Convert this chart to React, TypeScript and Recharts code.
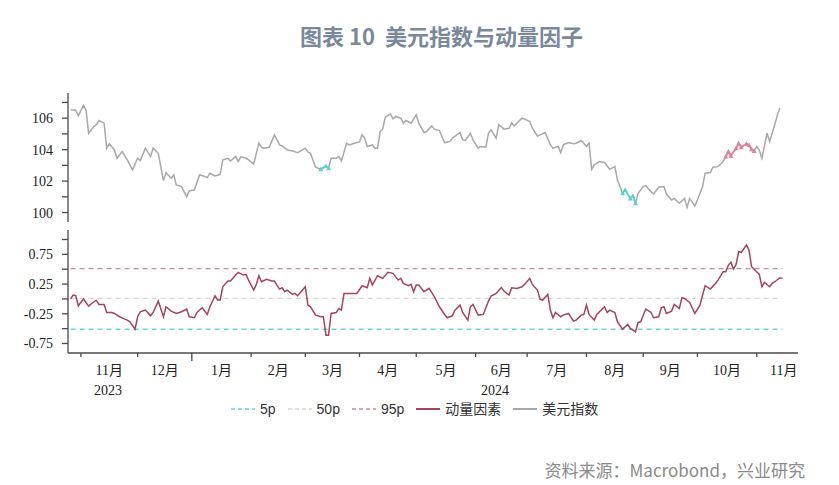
import React from 'react';
import { LineChart, Line, XAxis, YAxis } from 'recharts';

// x = trading day index counted from 2023-10-25
const dxyPoints: [number, number][] = [
  [1, 106.53], [3, 106.5], [4, 106.15], [6, 106.81], [7, 106.5], [8, 105.04], [10, 105.47], [11, 105.58],
  [12, 105.85], [14, 105.68], [15, 104.09], [16, 104.37], [18, 103.98], [19, 103.45], [21, 103.88], [23, 103.35],
  [25, 102.71], [27, 103.45], [28, 103.3], [30, 104.09], [32, 103.56], [33, 104.09], [35, 103.77], [37, 102.03],
  [38, 102.54], [40, 102.18], [41, 102.39], [42, 101.75], [44, 101.65], [46, 101.01], [47, 101.37], [49, 101.44],
  [51, 102.39], [52, 102.35], [54, 102.22], [55, 102.5], [57, 102.33], [59, 102.43], [60, 103.35], [62, 103.45],
  [63, 103.28], [65, 103.56], [66, 103.24], [67, 103.56], [69, 103.45], [70, 103.35], [72, 103.09], [74, 104.41],
  [75, 104.15], [76, 104.09], [78, 104.15], [80, 104.94], [82, 104.3], [83, 104.24], [85, 103.98], [87, 103.92],
  [89, 103.81], [92, 104.09], [93, 103.86], [94, 103.77], [96, 102.88], [98, 102.75], [100, 102.96], [101, 102.82],
  [102, 103.45], [104, 103.45], [105, 103.56], [106, 103.28], [108, 104.41], [109, 104.3], [111, 104.41], [113, 104.49],
  [114, 104.94], [115, 104.73], [116, 104.2], [118, 104.3], [119, 104.09], [120, 104.09], [121, 105.15], [122, 105.3],
  [123, 106.06], [125, 106.28], [126, 105.96], [127, 106.11], [129, 106.0], [130, 105.68], [131, 105.85], [133, 105.68],
  [135, 106.21], [136, 105.68], [138, 105.09], [139, 105.15], [141, 105.51], [142, 105.3], [144, 105.21], [146, 104.45],
  [148, 104.51], [149, 104.73], [152, 105.09], [153, 104.62], [154, 104.58], [156, 105.04], [157, 104.62], [159, 104.09],
  [160, 104.2], [162, 104.15], [163, 105.04], [164, 105.26], [166, 104.73], [167, 105.58], [169, 105.3], [171, 105.36],
  [172, 105.72], [173, 105.51], [176, 106.0], [177, 105.94], [179, 105.79], [180, 105.36], [182, 104.87], [183, 104.94],
  [185, 105.09], [187, 104.3], [188, 104.09], [190, 104.2], [191, 103.81], [192, 104.3], [194, 104.45], [196, 104.37],
  [197, 104.41], [199, 104.58], [201, 104.2], [202, 104.41], [203, 102.75], [204, 103.03], [206, 103.24], [208, 103.18],
  [210, 102.75], [212, 102.92], [213, 102.07], [215, 101.22], [216, 101.44], [218, 100.9], [219, 101.05], [220, 100.59],
  [221, 101.22], [223, 101.65], [224, 101.71], [226, 101.33], [227, 101.18], [229, 101.61], [231, 101.65], [232, 101.18],
  [234, 100.8], [235, 100.9], [237, 100.59], [239, 100.9], [240, 100.33], [241, 100.9], [243, 100.42], [244, 100.8],
  [246, 101.65], [247, 102.5], [249, 102.54], [250, 102.88], [252, 102.92], [254, 103.24], [255, 103.56], [256, 103.88],
  [257, 103.6], [259, 104.09], [260, 104.41], [261, 104.15], [263, 104.37], [264, 104.3], [265, 104.03], [266, 103.92],
  [267, 104.2], [268, 103.95], [269, 103.45], [271, 105.04], [272, 104.51], [274, 105.58], [275, 106.21], [276, 106.64],
];

const momentumPoints: [number, number][] = [
  [1, 0.0], [2, 0.065], [3, 0.054], [4, -0.115], [6, -0.003], [8, -0.121], [10, -0.048], [11, -0.025],
  [12, -0.093], [14, -0.093], [15, -0.228], [17, -0.228], [18, -0.244], [20, -0.3], [22, -0.34], [23, -0.357],
  [24, -0.385], [26, -0.508], [27, -0.3], [28, -0.216], [30, -0.188], [32, -0.284], [33, -0.228], [35, -0.037],
  [37, -0.3], [38, -0.132], [40, -0.205], [42, -0.244], [44, -0.216], [46, -0.171], [47, -0.3], [49, -0.317],
  [50, -0.228], [52, -0.149], [54, -0.261], [55, -0.132], [57, 0.053], [58, -0.02], [59, -0.02], [60, 0.205],
  [62, 0.301], [63, 0.301], [65, 0.402], [66, 0.447], [68, 0.402], [69, 0.413], [70, 0.317], [72, 0.149],
  [73, 0.244], [74, 0.39], [75, 0.29], [77, 0.329], [79, 0.301], [80, 0.301], [82, 0.166], [83, 0.188],
  [84, 0.121], [85, 0.149], [87, 0.076], [88, 0.093], [89, 0.053], [92, 0.205], [93, -0.104], [94, -0.132],
  [96, -0.272], [98, -0.3], [99, -0.3], [100, -0.61], [101, -0.61], [102, -0.244], [104, -0.228], [105, -0.16],
  [106, -0.188], [107, 0.093], [109, 0.093], [111, 0.093], [112, 0.093], [114, 0.222], [116, 0.188], [117, 0.346],
  [118, 0.233], [120, 0.39], [122, 0.346], [124, 0.447], [126, 0.43], [128, 0.317], [129, 0.346], [130, 0.261],
  [132, 0.222], [133, 0.244], [134, 0.121], [135, 0.233], [136, 0.233], [138, 0.121], [140, 0.177], [142, 0.037],
  [144, -0.132], [146, -0.261], [147, -0.317], [149, -0.284], [150, -0.188], [152, -0.104], [153, -0.228], [155, -0.357],
  [156, -0.132], [157, -0.093], [159, -0.272], [161, -0.261], [163, -0.037], [164, 0.048], [166, 0.093], [168, 0.194],
  [169, 0.132], [171, 0.065], [172, 0.188], [174, 0.177], [176, 0.205], [177, 0.244], [179, 0.346], [180, 0.244],
  [182, 0.149], [183, -0.003], [184, -0.02], [186, 0.076], [187, -0.188], [188, -0.317], [189, -0.228], [191, -0.3],
  [192, -0.272], [194, -0.244], [196, -0.374], [197, -0.357], [199, -0.272], [200, -0.261], [201, -0.104], [202, -0.261],
  [204, -0.357], [205, -0.261], [208, -0.132], [209, -0.228], [210, -0.188], [212, -0.228], [213, -0.385], [215, -0.508],
  [217, -0.43], [218, -0.497], [220, -0.553], [221, -0.396], [222, -0.385], [224, -0.171], [226, -0.228], [227, -0.317],
  [229, -0.3], [230, -0.149], [231, -0.132], [232, -0.244], [234, -0.205], [235, -0.093], [237, -0.16], [238, 0.02],
  [239, 0.008], [241, -0.059], [243, -0.244], [245, -0.104], [246, 0.065], [247, 0.222], [249, 0.166], [251, 0.261],
  [252, 0.317], [254, 0.458], [255, 0.458], [256, 0.57], [257, 0.615], [258, 0.503], [259, 0.581], [260, 0.795],
  [261, 0.784], [263, 0.907], [264, 0.823], [265, 0.542], [267, 0.458], [268, 0.413], [269, 0.205], [270, 0.278],
  [272, 0.205], [273, 0.261], [274, 0.289], [276, 0.357], [277, 0.346],
];

// percentile levels of the momentum factor
const p5 = -0.51;
const p50 = 0.01;
const p95 = 0.51;

// days where momentum sits below 5p / above 95p
const lowRanges = [[98, 101], [215, 220]];
const highRanges = [[255, 266]];

const monthStarts = [5, 27, 48, 71, 92, 113, 135, 158, 178, 201, 223, 244, 267, 288];
const monthLabels = ['11月', '12月', '1月', '2月', '3月', '4月', '5月', '6月', '7月', '8月', '9月', '10月', '11月'];
const yearStart = 48;
const yearLabels = ['2023', '2024'];
const yearLabelDays = [15.5, 165.5];

const legendItems = [
  { name: '5p', color: '#6fd3d3', dashed: true },
  { name: '50p', color: '#d9d6d0', dashed: true },
  { name: '95p', color: '#c98c9c', dashed: true },
  { name: '动量因素', color: '#a5445f', dashed: false },
  { name: '美元指数', color: '#a8a8a8', dashed: false },
];

const X_DOMAIN: [number, number] = [0, 283];
const AXIS = '#4a4a4a';
const tickFont = { fontFamily: '"Liberation Serif", "Noto Sans CJK SC", serif', fontSize: 14, fill: '#222' };

const toRows = (pts: [number, number][]) => pts.map(([day, value]) => ({ day, value }));
const inRanges = (day: number, ranges: number[][]) => ranges.some(([a, b]) => day >= a && day <= b);

const dxyData = toRows(dxyPoints);
const momentumData = toRows(momentumPoints);
const firstDay = momentumPoints[0][0];
const lastDay = momentumPoints[momentumPoints.length - 1][0];
const levelLine = (v: number) => [{ day: firstDay, value: v }, { day: lastDay, value: v }];
const lowData = dxyData.map(d => ({ day: d.day, value: inRanges(d.day, lowRanges) ? d.value : null }));
const highData = dxyData.map(d => ({ day: d.day, value: inRanges(d.day, highRanges) ? d.value : null }));

const monthMids = monthLabels.map((_, i) => (monthStarts[i] + monthStarts[i + 1]) / 2);
const xTicks = [...monthStarts.slice(0, -1), ...monthMids, ...yearLabelDays].sort((a, b) => a - b);

const triangleDot = (color: string) => (props: any) => {
  const { cx, cy, key, payload } = props;
  if (payload == null || payload.value == null || cx == null || cy == null) return <g key={key} />;
  return (
    <path key={key} d={`M${cx},${cy - 2.5}L${cx + 2.5},${cy + 2}L${cx - 2.5},${cy + 2}Z`} fill={color} />
  );
};

function MonthTick(props: any) {
  const { x, y, payload } = props;
  const v = payload.value;
  const si = monthStarts.indexOf(v);
  if (si >= 0) {
    return <line x1={x} x2={x} y1={y} y2={y + (v === yearStart ? 8 : 4)} stroke={AXIS} strokeWidth={1.3} />;
  }
  const mi = monthMids.indexOf(v);
  if (mi >= 0) {
    return (
      <text x={x} y={y + 22} textAnchor="middle" {...tickFont}>
        {monthLabels[mi]}
      </text>
    );
  }
  const yi = yearLabelDays.indexOf(v);
  return (
    <text x={x} y={y + 42} textAnchor="middle" {...tickFont}>
      {yearLabels[yi]}
    </text>
  );
}

export default function App() {
  return (
    <div style={{ position: 'absolute', left: 0, top: 0, width: 839, height: 485, background: '#fff' }}>
      <div
        style={{
          position: 'absolute', top: 22, left: 0, width: 883, textAlign: 'center',
          fontFamily: '"Noto Sans CJK SC", sans-serif', fontSize: 22, fontWeight: 700,
          color: '#7a889b', lineHeight: '26px',
        }}
      >
        图表 10&nbsp; 美元指数与动量因子
      </div>

      <div style={{ position: 'absolute', left: 0, top: 0 }}>
        <LineChart width={839} height={230} margin={{ top: 93, right: 41, bottom: 8, left: 0 }}>
          <XAxis dataKey="day" type="number" domain={X_DOMAIN} allowDataOverflow tick={false} tickLine={false}
            height={0} axisLine={{ stroke: AXIS, strokeWidth: 1.3 }} />
          <YAxis type="number" domain={[99.4, 107.6]} allowDataOverflow width={68}
            ticks={[100, 101, 102, 103, 104, 105, 106, 107]}
            tickFormatter={(v: number) => (v % 2 === 0 ? String(v) : '')}
            tick={tickFont} tickSize={6} tickMargin={9}
            tickLine={{ stroke: AXIS, strokeWidth: 1.3 }} axisLine={{ stroke: AXIS, strokeWidth: 1.3 }} />
          <Line data={dxyData} dataKey="value" stroke="#a8a8a8" strokeWidth={1.5} dot={false} isAnimationActive={false} />
          <Line data={lowData} dataKey="value" stroke="#5fd0d0" strokeWidth={1.8} dot={triangleDot('#5fd0d0')}
            connectNulls={false} isAnimationActive={false} />
          <Line data={highData} dataKey="value" stroke="#e0849c" strokeWidth={1.8} dot={triangleDot('#e0849c')}
            connectNulls={false} isAnimationActive={false} />
        </LineChart>
      </div>

      <div style={{ position: 'absolute', left: 0, top: 222 }}>
        <LineChart width={839} height={200} margin={{ top: 8, right: 41, bottom: 0, left: 0 }}>
          <XAxis dataKey="day" type="number" domain={X_DOMAIN} allowDataOverflow ticks={xTicks} interval={0}
            tick={<MonthTick />} tickLine={false} tickSize={0} tickMargin={0} height={69}
            axisLine={{ stroke: AXIS, strokeWidth: 1.3 }} />
          <YAxis type="number" domain={[-0.91, 1.16]} allowDataOverflow width={68}
            ticks={[-0.75, -0.5, -0.25, 0, 0.25, 0.5, 0.75, 1]}
            tickFormatter={(v: number) => (Math.abs(v) === 0.75 || Math.abs(v) === 0.25 ? String(v) : '')}
            tick={tickFont} tickSize={6} tickMargin={9}
            tickLine={{ stroke: AXIS, strokeWidth: 1.3 }} axisLine={{ stroke: AXIS, strokeWidth: 1.3 }} />
          <Line data={levelLine(p5)} dataKey="value" stroke="#6fd3d3" strokeWidth={1.3} strokeDasharray="5 4"
            dot={false} isAnimationActive={false} />
          <Line data={levelLine(p50)} dataKey="value" stroke="#d9d6d0" strokeWidth={1.3} strokeDasharray="5 4"
            dot={false} isAnimationActive={false} />
          <Line data={levelLine(p95)} dataKey="value" stroke="#c98c9c" strokeWidth={1.3} strokeDasharray="5 4"
            dot={false} isAnimationActive={false} />
          <Line data={momentumData} dataKey="value" stroke="#a5445f" strokeWidth={1.5} dot={false}
            isAnimationActive={false} />
        </LineChart>
      </div>

      <div
        style={{
          position: 'absolute', top: 400, left: 230, display: 'flex', alignItems: 'center',
          fontFamily: '"Liberation Sans", "Noto Sans CJK SC", sans-serif', fontSize: 14, color: '#333', lineHeight: '18px',
        }}
      >
        {legendItems.map(item => (
          <div key={item.name} style={{ display: 'flex', alignItems: 'center', marginRight: 11 }}>
            <svg width={26} height={10}>
              <line x1={1} x2={25} y1={5} y2={5} stroke={item.color} strokeWidth={item.dashed ? 1.5 : 2}
                strokeDasharray={item.dashed ? '4 3' : undefined} />
            </svg>
            <span style={{ marginLeft: 4 }}>{item.name}</span>
          </div>
        ))}
      </div>

      <div
        style={{
          position: 'absolute', top: 459, right: 34, fontFamily: '"Noto Sans CJK SC", sans-serif',
          fontSize: 17, color: '#8a8a8a', lineHeight: '22px',
        }}
      >
        资料来源：Macrobond，兴业研究
      </div>
    </div>
  );
}
